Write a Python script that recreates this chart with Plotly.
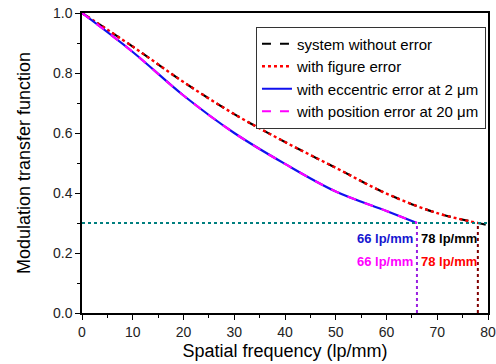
import plotly.graph_objects as go

freq_black = [0, 10, 20, 30, 40, 50, 60, 70, 78, 80]
mtf_black = [1.0, 0.888, 0.77, 0.663, 0.57, 0.484, 0.398, 0.333, 0.30, 0.293]
freq_red = [0, 10, 20, 30, 40, 50, 60, 70, 78]
mtf_red = [1.0, 0.888, 0.77, 0.663, 0.57, 0.484, 0.398, 0.333, 0.30]
freq_blue = [0, 10, 20, 30, 40, 50, 60, 66]
mtf_blue = [1.0, 0.87, 0.725, 0.60, 0.497, 0.405, 0.34, 0.30]
mtf_magenta = [1.0, 0.87, 0.725, 0.60, 0.497, 0.405, 0.34, 0.30]
threshold = 0.3
cutoff_low = 66
cutoff_high = 78
x_range = [0, 80]

FONT = "Liberation Sans, Arial, sans-serif"

fig = go.Figure()
fig.add_trace(go.Scatter(x=freq_black, y=mtf_black, mode="lines", name="system without error",
                         line=dict(color="black", width=2.2, dash="dash", shape="spline")))
fig.add_trace(go.Scatter(x=freq_red, y=mtf_red, mode="lines", name="with figure error",
                         line=dict(color="red", width=2.4, dash="dot", shape="spline")))
fig.add_trace(go.Scatter(x=freq_blue, y=mtf_blue, mode="lines", name="with eccentric error at 2 μm",
                         line=dict(color="#1010ee", width=2.2, shape="spline")))
fig.add_trace(go.Scatter(x=freq_blue, y=mtf_magenta, mode="lines", name="with position error at 20 μm",
                         line=dict(color="#ff00ff", width=2.2, dash="dash", shape="spline")))

# threshold and cutoff guide lines
fig.add_trace(go.Scatter(x=x_range, y=[threshold, threshold], mode="lines", showlegend=False,
                         line=dict(color="#007f7f", width=2, dash="dot")))
fig.add_trace(go.Scatter(x=[cutoff_low, cutoff_low], y=[0, threshold], mode="lines", showlegend=False,
                         line=dict(color="#9a20e0", width=2, dash="dot")))
fig.add_trace(go.Scatter(x=[cutoff_high, cutoff_high], y=[0, threshold], mode="lines", showlegend=False,
                         line=dict(color="#800000", width=2, dash="dot")))

ann_font = dict(family=FONT, size=13)
fig.add_annotation(x=cutoff_low - 0.4, y=0.25, text="<b>%d lp/mm</b>" % cutoff_low, showarrow=False,
                   xanchor="right", font=dict(color="#1515d0", **ann_font))
fig.add_annotation(x=cutoff_low + 0.4, y=0.25, text="<b>%d lp/mm</b>" % cutoff_high, showarrow=False,
                   xanchor="left", font=dict(color="black", **ann_font))
fig.add_annotation(x=cutoff_low - 0.4, y=0.173, text="<b>%d lp/mm</b>" % cutoff_low, showarrow=False,
                   xanchor="right", font=dict(color="#ff00ff", **ann_font))
fig.add_annotation(x=cutoff_low + 0.4, y=0.173, text="<b>%d lp/mm</b>" % cutoff_high, showarrow=False,
                   xanchor="left", font=dict(color="red", **ann_font))

axis_common = dict(showgrid=False, zeroline=False, showline=True, linecolor="black", linewidth=1.5,
                   mirror=True, ticks="outside", ticklen=5, tickwidth=1.2, tickcolor="black",
                   automargin=False,
                   tickfont=dict(family=FONT, size=14, color="#222222"))
fig.update_xaxes(range=x_range, dtick=10, tick0=0,
                 minor=dict(dtick=5, ticks="outside", ticklen=3, tickcolor="black"),
                 title=dict(text="Spatial frequency (lp/mm)", font=dict(family=FONT, size=18, color="black"),
                            standoff=6),
                 **axis_common)
fig.update_yaxes(range=[0, 1.0], dtick=0.2, tick0=0, tickformat=".1f",
                 minor=dict(dtick=0.1, ticks="outside", ticklen=3, tickcolor="black"),
                 title=dict(text="Modulation transfer function", font=dict(family=FONT, size=18, color="black"),
                            standoff=18),
                 **axis_common)

fig.update_layout(
    width=496, height=364,
    margin=dict(l=82, r=8, t=13, b=51),
    plot_bgcolor="white", paper_bgcolor="white",
    font=dict(family=FONT, color="black"),
    legend=dict(x=0.995, xanchor="right", y=0.955, yanchor="top",
                bgcolor="white", bordercolor="#333333", borderwidth=1,
                font=dict(family=FONT, size=15, color="black"),
                tracegroupgap=0, itemwidth=30),
)

fig.write_html("out.html", config={"displayModeBar": False},
               post_script="document.body.style.margin='0';")
